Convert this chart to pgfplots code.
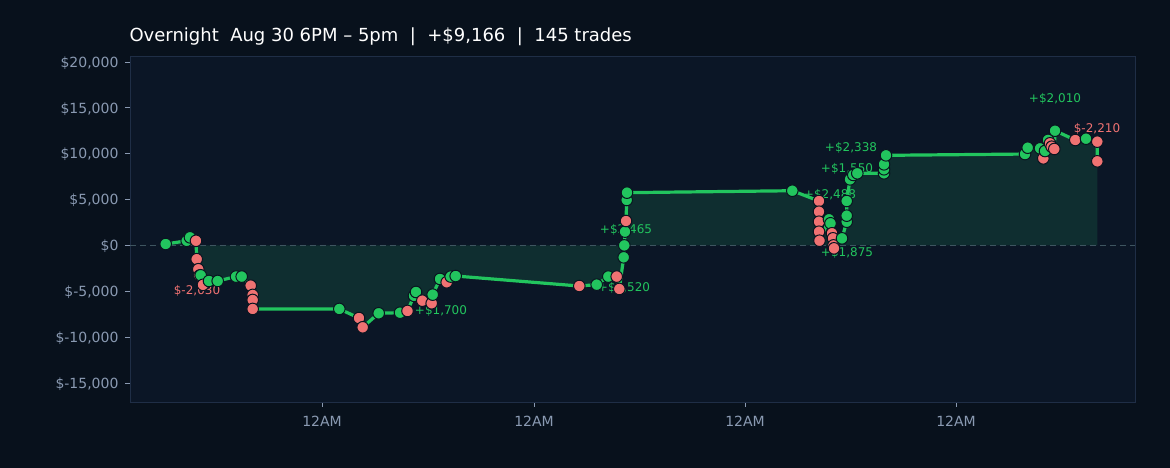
\documentclass[border=0pt]{standalone}
\usepackage{fontspec}
\setmainfont{DejaVu Sans}
\usepackage{pgfplots}
\pgfplotsset{compat=1.18}
\definecolor{figbg}{HTML}{08111C}
\definecolor{plotbg}{HTML}{0B1626}
\definecolor{frame}{HTML}{1F2E46}
\definecolor{ticktxt}{HTML}{8A9AB2}
\definecolor{upgreen}{HTML}{22C55E}
\definecolor{downred}{HTML}{F07272}
\definecolor{areafill}{HTML}{0F2E30}
\definecolor{zeroline}{HTML}{3E5560}
\definecolor{markedge}{HTML}{0A1420}

% x = horizontal position (px), y = cumulative P&L, c = 0 win / 1 loss
\pgfplotstableread{
x y c
165.7 150 0
186.7 500 0
190 880 0
196 500 1
196.7 -1500 1
198.3 -2600 1
199.5 -3300 1
200.7 -3260 0
203 -4300 1
209 -3880 0
217.7 -3880 0
236 -3400 0
241.7 -3400 0
250.7 -4390 1
252.7 -5400 1
252.7 -5950 1
252.7 -6930 1
339.3 -6930 0
359 -7920 1
362.7 -8930 1
378.7 -7400 0
400 -7340 0
407.5 -7150 1
414 -5500 0
416 -5080 0
422.3 -6030 1
431.7 -6310 1
432.7 -5370 0
440 -3660 0
446.7 -4020 1
450.7 -3400 0
455.7 -3340 0
579.3 -4430 1
596.7 -4280 0
608.3 -3400 0
616.7 -3400 1
619.3 -4750 1
623.7 -1300 0
624.3 0 0
625 1500 0
626 2660 1
626.7 4950 0
627 5750 0
792.3 5960 0
819 4840 1
819 3670 1
819 2580 1
819 1490 1
819.5 510 1
829 2850 0
830.5 2410 0
832 1320 1
833 770 1
833.5 0 1
834 -320 1
842 770 0
846.7 2580 0
846.7 3240 0
846.7 4840 0
850 7200 0
853.3 7680 0
857.3 7860 0
884 7860 0
884 8300 0
884 8840 0
886 9820 0
1025 9960 0
1027.7 10650 0
1040 10580 0
1043.3 9490 1
1045 10290 0
1048 11500 0
1050 11130 1
1051.7 10760 1
1054.3 10510 1
1055 12500 0
1075.3 11490 1
1086 11630 0
1097.3 11310 1
1097.3 9166 1
}\trades

\begin{document}
\begin{tikzpicture}[font=\fontsize{14}{16}\selectfont]
\fill[figbg] (-130pt,-66pt) rectangle (1040pt,402pt);
\begin{axis}[
    at={(0,0)}, anchor=south west,
    scale only axis,
    width=1005pt, height=346pt,
    xmin=130, xmax=1135,
    ymin=-17075, ymax=20650,
    scaled y ticks=false,
    axis background/.style={fill=plotbg},
    axis line style={frame, line width=0.8pt},
    xtick={322,534,745,956},
    xticklabels={12AM,12AM,12AM,12AM},
    ytick={-15000,-10000,-5000,0,5000,10000,15000,20000},
    yticklabels={{\$-15,000},{\$-10,000},{\$-5,000},{\$0},{\$5,000},{\$10,000},{\$15,000},{\$20,000}},
    tick align=outside,
    tick pos=left,
    major tick length=5pt,
    tick style={ticktxt, line width=0.8pt},
    ticklabel style={text=ticktxt, font=\fontsize{14}{16}\selectfont},
    xticklabel style={yshift=-6pt},
    yticklabel style={xshift=-3pt, yshift=-1pt},
    title={Overnight\ \ Aug 30 6PM – 5pm\ \ |\ \ +\$9,166\ \ |\ \ 145 trades},
    title style={text=white, font=\fontsize{18}{21}\selectfont, anchor=south west,
        at={(0,1)}, xshift=-4pt, yshift=1pt},
    clip=false,
]
\addplot[draw=none, fill=areafill] table[x=x, y=y] {\trades} \closedcycle;
\addplot[zeroline, line width=1pt, dash pattern=on 6pt off 4pt] coordinates {(130,0) (1135,0)};
\addplot[upgreen, line width=3.2pt, line join=round, no marks] table[x=x, y=y] {\trades};
\addplot[
    scatter, only marks,
    scatter src=explicit symbolic,
    scatter/classes={
        0={mark=*, fill=upgreen, draw=markedge},
        1={mark=*, fill=downred, draw=markedge}},
    mark size=5.8pt,
    mark options={line width=1pt},
] table[x=x, y=y, meta=c] {\trades};

\begin{scope}[font=\fontsize{12}{14}\selectfont]
\node[text=downred] at (axis cs:197,-4970) {\$-2,030};
\node[text=upgreen] at (axis cs:441,-7150) {+\$1,700};
\node[text=upgreen] at (axis cs:626,1700) {+\$2,465};
\node[text=upgreen] at (axis cs:624,-4600) {+\$1,520};
\node[text=upgreen] at (axis cs:830,5500) {+\$2,488};
\node[text=upgreen] at (axis cs:847,8300) {+\$1,550};
\node[text=upgreen] at (axis cs:851,10600) {+\$2,338};
\node[text=upgreen] at (axis cs:847,-850) {+\$1,875};
\node[text=upgreen] at (axis cs:1055,16000) {+\$2,010};
\node[text=downred] at (axis cs:1097,12700) {\$-2,210};
\end{scope}
\end{axis}
\end{tikzpicture}
\end{document}
